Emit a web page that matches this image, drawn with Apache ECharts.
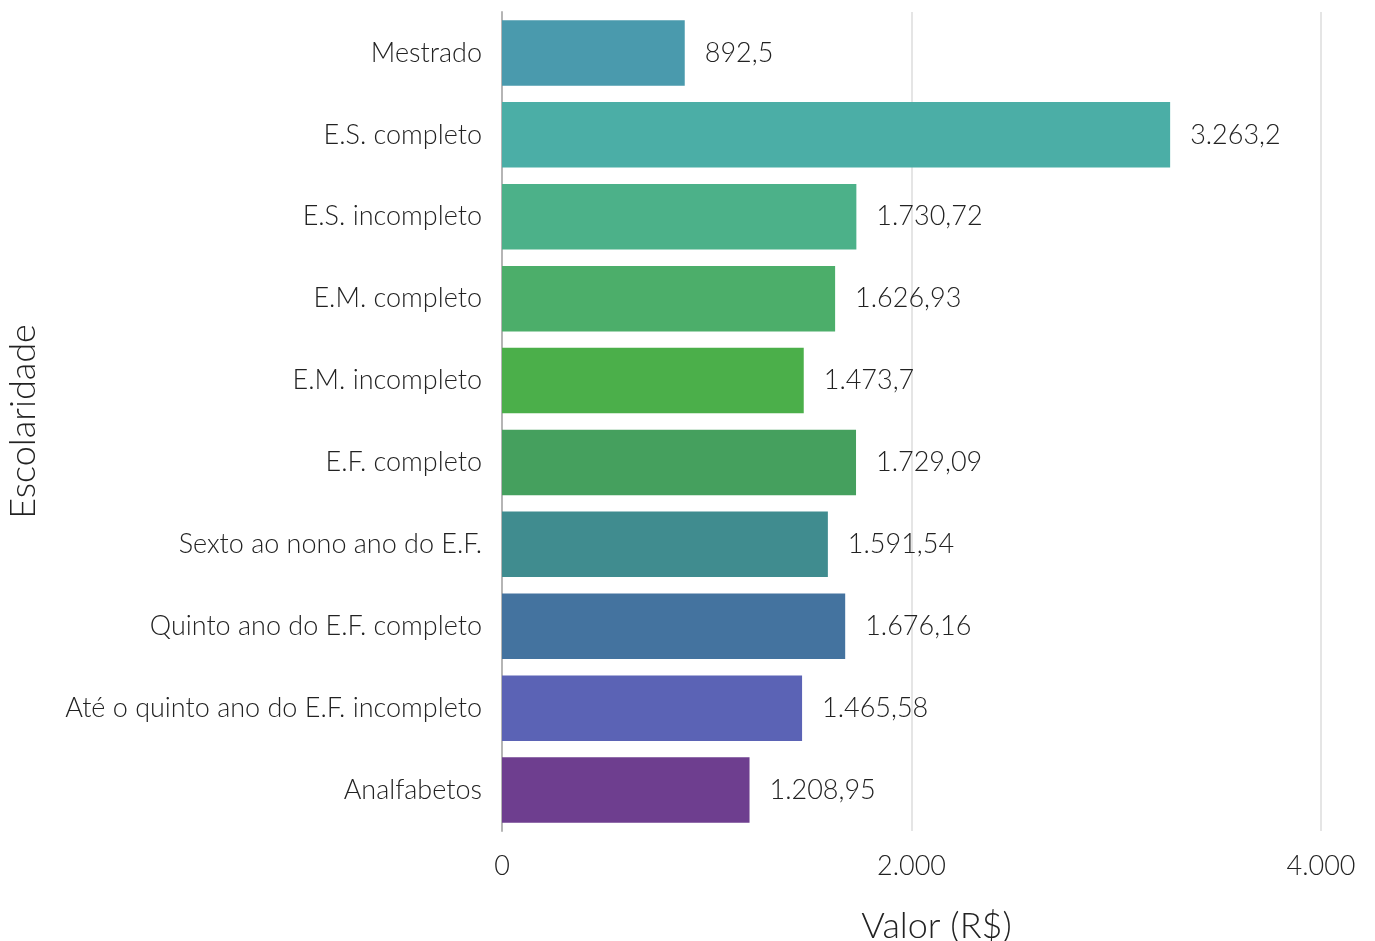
<!DOCTYPE html>
<html>
<head>
<meta charset="utf-8">
<script src="https://cdn.jsdelivr.net/npm/echarts@6/dist/echarts.min.js"></script>
<style>
  html, body { margin: 0; padding: 0; background: #fff; }
  #chart { width: 1375px; height: 941px; }
</style>
</head>
<body>
<div id="chart"></div>
<script>
// categorias de cima para baixo
var categorias = ['Mestrado', 'E.S. completo', 'E.S. incompleto', 'E.M. completo', 'E.M. incompleto',
  'E.F. completo', 'Sexto ao nono ano do E.F.', 'Quinto ano do E.F. completo',
  'Até o quinto ano do E.F. incompleto', 'Analfabetos'];
var valores = [892.5, 3263.2, 1730.72, 1626.93, 1473.7, 1729.09, 1591.54, 1676.16, 1465.58, 1208.95];
var cores = ['#4a9aad', '#4baea6', '#4cb189', '#4cae6a', '#4baf4a', '#45a05e', '#408c8f', '#44739f', '#5b63b5', '#6e3e8f'];

var fonte = 'Lato';
var corTexto = '#222';

// formato pt-BR: ponto para milhar, vírgula para decimal
function fmt(v) {
  var partes = String(v).split('.');
  var inteiro = partes[0].replace(/\B(?=(\d{3})+(?!\d))/g, '.');
  return partes.length > 1 ? inteiro + ',' + partes[1] : inteiro;
}

var chart = echarts.init(document.getElementById('chart'));
var option = {
  animation: false,
  grid: {
    left: 502,
    right: 54,
    top: 12,
    bottom: 110,
    containLabel: false,
    outerBoundsMode: 'none'
  },
  xAxis: {
    type: 'value',
    min: 0,
    max: 4000,
    interval: 2000,
    name: 'Valor (R$)',
    nameLocation: 'middle',
    nameGap: 77,
    nameTextStyle: {
      fontFamily: fonte, fontWeight: 300, fontSize: 36, color: corTexto,
      padding: [0, 0, 0, 50]
    },
    axisLine: { show: false },
    axisTick: { show: false },
    axisLabel: {
      margin: 22,
      fontFamily: fonte, fontWeight: 300, fontSize: 27, color: corTexto,
      formatter: function (v) { return fmt(v); }
    },
    splitLine: { show: true, lineStyle: { color: '#dcdcdc', width: 1.5 } }
  },
  yAxis: {
    type: 'category',
    inverse: true,
    data: categorias,
    name: 'Escolaridade',
    nameLocation: 'middle',
    nameGap: 461,
    nameTextStyle: { fontFamily: fonte, fontWeight: 300, fontSize: 36, color: corTexto },
    axisLine: { show: true, lineStyle: { color: '#b5b5b5', width: 2 } },
    axisTick: { show: false },
    axisLabel: {
      margin: 20,
      fontFamily: fonte, fontWeight: 300, fontSize: 27, color: corTexto
    }
  },
  series: [{
    type: 'bar',
    barCategoryGap: '20%',
    data: valores.map(function (v, i) {
      return { value: v, itemStyle: { color: cores[i] } };
    }),
    label: {
      show: true,
      position: 'right',
      distance: 20,
      fontFamily: fonte, fontWeight: 300, fontSize: 27, color: corTexto,
      formatter: function (p) { return fmt(p.value); }
    }
  }]
};
chart.setOption(option);
</script>
</body>
</html>
